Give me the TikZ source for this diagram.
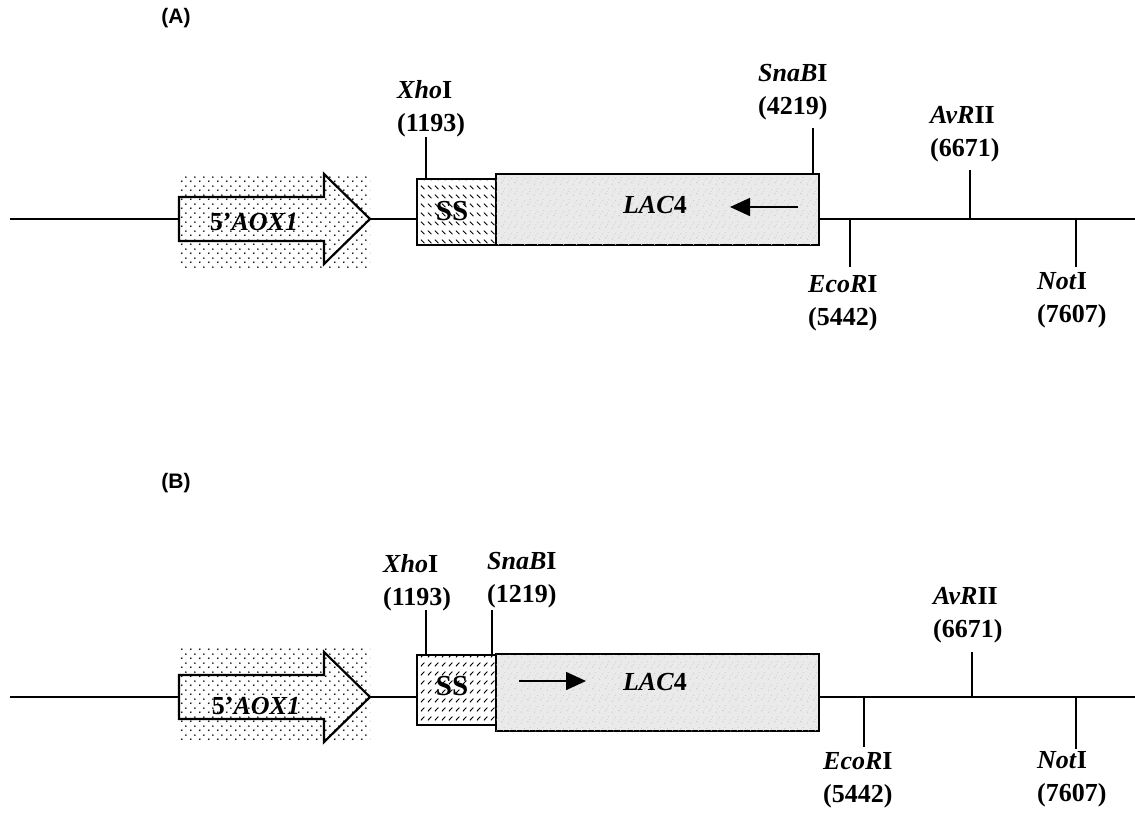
\documentclass[tikz,border=0pt]{standalone}
\usepackage{fontspec}
\setmainfont{Liberation Serif}
\newfontfamily\headfont{Liberation Sans}
\usetikzlibrary{arrows.meta,patterns}
\definecolor{lacgray}{RGB}{234,234,234}
\definecolor{speck}{RGB}{200,200,200}
\pgfdeclarepatternformonly{aoxdots}{\pgfqpoint{0pt}{0pt}}{\pgfqpoint{9pt}{9pt}}{\pgfqpoint{9pt}{9pt}}{%
  \pgfpathcircle{\pgfqpoint{2pt}{2pt}}{1pt}%
  \pgfpathcircle{\pgfqpoint{6.5pt}{6.5pt}}{1pt}%
  \pgfusepath{fill}}
\pgfdeclarepatternformonly{hatchdown}{\pgfqpoint{0pt}{0pt}}{\pgfqpoint{7pt}{9pt}}{\pgfqpoint{7pt}{9pt}}{%
  \pgfsetlinewidth{1pt}%
  \pgfpathmoveto{\pgfqpoint{1pt}{7pt}}\pgfpathlineto{\pgfqpoint{5pt}{3pt}}%
  \pgfusepath{stroke}}
\pgfdeclarepatternformonly{hatchup}{\pgfqpoint{0pt}{0pt}}{\pgfqpoint{7pt}{9pt}}{\pgfqpoint{7pt}{9pt}}{%
  \pgfsetlinewidth{1pt}%
  \pgfpathmoveto{\pgfqpoint{1pt}{3pt}}\pgfpathlineto{\pgfqpoint{5pt}{7pt}}%
  \pgfusepath{stroke}}
\pgfdeclarepatternformonly{granite}{\pgfqpoint{0pt}{0pt}}{\pgfqpoint{13pt}{11pt}}{\pgfqpoint{13pt}{11pt}}{%
  \pgfpathcircle{\pgfqpoint{1.5pt}{2pt}}{0.7pt}%
  \pgfpathcircle{\pgfqpoint{5pt}{8pt}}{0.6pt}%
  \pgfpathcircle{\pgfqpoint{8.5pt}{3.5pt}}{0.8pt}%
  \pgfpathcircle{\pgfqpoint{11pt}{9pt}}{0.6pt}%
  \pgfpathcircle{\pgfqpoint{3pt}{5.5pt}}{0.5pt}%
  \pgfpathcircle{\pgfqpoint{10pt}{6pt}}{0.5pt}%
  \pgfusepath{fill}}
\tikzset{
  mainline/.style={line width=2pt},
  boxnode/.style={draw, line width=2.2pt, inner sep=0pt, anchor=north west},
  lacbox/.style={boxnode, fill=lacgray, postaction={pattern=granite, pattern color=speck}},
  aoxshape/.style={draw, line width=2.2pt, line join=miter},
  lbl/.style={anchor=west, align=left, inner sep=0pt, font=\bfseries\fontsize{26}{33}\selectfont},
  gtext/.style={inner sep=0pt, font=\bfseries\fontsize{26}{31}\selectfont},
  sstext/.style={inner sep=0pt, font=\bfseries\fontsize{29}{33}\selectfont},
  tickline/.style={line width=2pt},
  dirarrow/.style={line width=1.6pt, -{Triangle[length=20pt,width=18pt]}},
  panellbl/.style={inner sep=0pt, font=\headfont\bfseries\fontsize{21}{24}\selectfont}
}
\begin{document}
\begin{tikzpicture}[x=1pt,y=-1pt]
\useasboundingbox (0,0) rectangle (1135,813);

% ================= Panel A =================
\node[panellbl] (panA) at (176,18) {(A)};
\fill[pattern=aoxdots] (180,175) rectangle (370,268);
\coordinate (aoxA-l) at (179,219);
\coordinate (aoxA-t) at (370,219);
\draw[aoxshape] (179,197) -- (324,197) -- (324,174) -- (aoxA-t) -- (324,264) -- (324,241) -- (179,241) -- cycle;
\node[gtext] (aoxA-txt) at (254,222) {5’\textit{AOX1}};
\node[boxnode, pattern=hatchdown, minimum width=79pt, minimum height=66pt] (ssA) at (416,178) {};
\node[sstext] (ssA-txt) at (452,211) {SS};
\node[lacbox, minimum width=323pt, minimum height=71pt] (lacA) at (495,173) {};
\node[gtext] (lacA-txt) at (655,205) {\textit{LAC}4};
\coordinate (dirA-s) at (798,207);
\coordinate (dirA-e) at (730,207);
\draw[dirarrow] (dirA-s) -- (dirA-e);

\coordinate (startA) at (10,219);
\coordinate (endA) at (1135,219);
\draw[mainline] (startA) -- (aoxA-l);
\draw[mainline] (aoxA-t) -- (aoxA-t -| ssA.west);
\draw[mainline] (lacA.east |- aoxA-t) -- (endA);

\node[lbl] (xhoA) at (397,109) {\textit{Xho}I\\(1193)};
\coordinate (xhoA-t) at (426,137);
\draw[tickline] (xhoA-t) -- (xhoA-t |- ssA.north);
\node[lbl] (snaA) at (758,92) {\textit{SnaB}I\\(4219)};
\coordinate (snaA-t) at (813,128);
\draw[tickline] (snaA-t) -- (snaA-t |- lacA.north);
\node[lbl] (avrA) at (930,134) {\textit{AvR}II\\(6671)};
\coordinate (avrA-t) at (970,170);
\draw[tickline] (avrA-t) -- (avrA-t |- aoxA-t);
\node[lbl] (ecoA) at (808,303) {\textit{EcoR}I\\(5442)};
\coordinate (ecoA-b) at (850,267);
\draw[tickline] (ecoA-b |- aoxA-t) -- (ecoA-b);
\node[lbl] (notA) at (1037,300) {\textit{Not}I\\(7607)};
\coordinate (notA-b) at (1076,267);
\draw[tickline] (notA-b |- aoxA-t) -- (notA-b);

% ================= Panel B =================
\node[panellbl] (panB) at (176,483) {(B)};
\fill[pattern=aoxdots] (180,648) rectangle (370,741);
\coordinate (aoxB-l) at (179,697);
\coordinate (aoxB-t) at (370,697);
\draw[aoxshape] (179,675) -- (324,675) -- (324,652) -- (aoxB-t) -- (324,742) -- (324,719) -- (179,719) -- cycle;
\node[gtext] (aoxB-txt) at (256,706) {5’\textit{AOX1}};
\node[boxnode, pattern=hatchup, minimum width=79pt, minimum height=70pt] (ssB) at (416,654) {};
\node[sstext] (ssB-txt) at (452,686) {SS};
\node[lacbox, minimum width=323pt, minimum height=77pt] (lacB) at (495,653) {};
\node[gtext] (lacB-txt) at (655,682) {\textit{LAC}4};
\coordinate (dirB-s) at (519,681);
\coordinate (dirB-e) at (586,681);
\draw[dirarrow] (dirB-s) -- (dirB-e);

\coordinate (startB) at (10,697);
\coordinate (endB) at (1135,697);
\draw[mainline] (startB) -- (aoxB-l);
\draw[mainline] (aoxB-t) -- (aoxB-t -| ssB.west);
\draw[mainline] (lacB.east |- aoxB-t) -- (endB);

\node[lbl] (xhoB) at (383,583) {\textit{Xho}I\\(1193)};
\coordinate (xhoB-t) at (426,610);
\draw[tickline] (xhoB-t) -- (xhoB-t |- ssB.north);
\node[lbl] (snaB) at (487,580) {\textit{SnaB}I\\(1219)};
\coordinate (snaB-t) at (492,610);
\draw[tickline] (snaB-t) -- (snaB-t |- ssB.north);
\node[lbl] (avrB) at (933,615) {\textit{AvR}II\\(6671)};
\coordinate (avrB-t) at (972,652);
\draw[tickline] (avrB-t) -- (avrB-t |- aoxB-t);
\node[lbl] (ecoB) at (823,780) {\textit{EcoR}I\\(5442)};
\coordinate (ecoB-b) at (864,747);
\draw[tickline] (ecoB-b |- aoxB-t) -- (ecoB-b);
\node[lbl] (notB) at (1037,779) {\textit{Not}I\\(7607)};
\coordinate (notB-b) at (1076,749);
\draw[tickline] (notB-b |- aoxB-t) -- (notB-b);
\end{tikzpicture}
\end{document}
